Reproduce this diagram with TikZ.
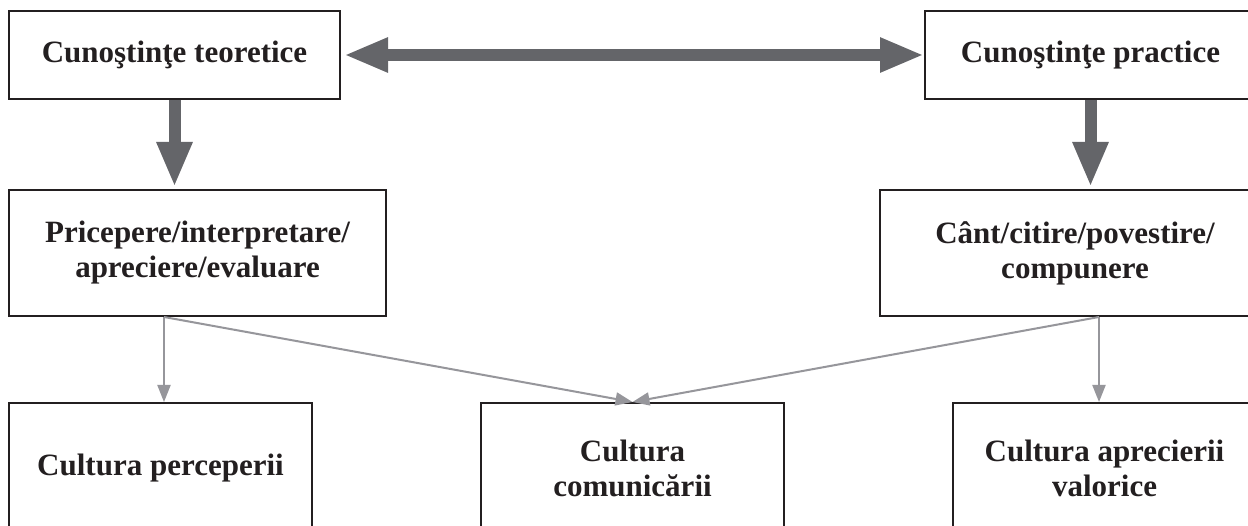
\documentclass[tikz,border=0pt]{standalone}
\usepackage{fontspec}
\setmainfont{Liberation Serif}
\usetikzlibrary{arrows.meta,calc}
\definecolor{inkdark}{RGB}{35,31,32}
\definecolor{thickgray}{RGB}{100,101,105}
\definecolor{thingray}{RGB}{150,150,155}
\tikzset{
  box/.style={draw=inkdark, line width=2pt, fill=white, inner sep=0pt, align=center,
    text=inkdark, font=\fontsize{31}{35}\selectfont\bfseries},
  bigarrow/.style={draw=thickgray, line width=12pt,
    -{Triangle[length=45pt, width=33pt]}},
  bigdouble/.style={draw=thickgray, line width=12pt,
    {Triangle[length=44pt, width=32pt]}-{Triangle[length=44pt, width=32pt]}},
  thinarrow/.style={draw=thingray, line width=2pt,
    -{Triangle[length=17pt, width=13pt]}},
}
\begin{document}
\begin{tikzpicture}[x=1pt,y=-1pt]
\useasboundingbox (0,0) rectangle (1248,526);
\clip (0,0) rectangle (1248,526);
\fill[white] (0,0) rectangle (1248,526);

\node[box, minimum width=331pt, minimum height=88pt] (b1) at (174.5,55) {Cunoştinţe teoretice};
\node[box, minimum width=331pt, minimum height=88pt] (b3) at (1090.5,55) {Cunoştinţe practice};
\node[box, minimum width=377pt, minimum height=126pt] (b2) at (197.5,253) {Pricepere/interpretare/\\apreciere/evaluare};
\node[box, minimum width=390pt, minimum height=126pt] (b4) at (1075,253) {Cânt/citire/povestire/\\compunere};
\node[box, minimum width=303pt, minimum height=130pt] (b5) at (160.5,468) {Cultura perceperii};
\node[box, minimum width=303pt, minimum height=130pt] (b6) at (632.5,468) {Cultura\\comunicării};
\node[box, minimum width=303pt, minimum height=130pt] (b7) at (1104.5,468) {Cultura aprecierii\\valorice};

\draw[bigdouble, shorten <=3pt, shorten >=0pt] (b1.east) -- (b3.west);
\draw[bigarrow, shorten >=2pt] (b1.south) -- (b1.south |- b2.north);
\draw[bigarrow, shorten >=2pt] (b3.south) -- (b3.south |- b4.north);

\coordinate (s1) at ([xshift=156pt]b2.south west);
\coordinate (s2) at ([xshift=220pt]b4.south west);
\draw[thinarrow] (s1) -- (s1 |- b5.north);
\draw[thinarrow] (s1) -- (b6.north);
\draw[thinarrow] (s2) -- (b6.north);
\draw[thinarrow] (s2) -- (s2 |- b7.north);
\end{tikzpicture}
\end{document}
